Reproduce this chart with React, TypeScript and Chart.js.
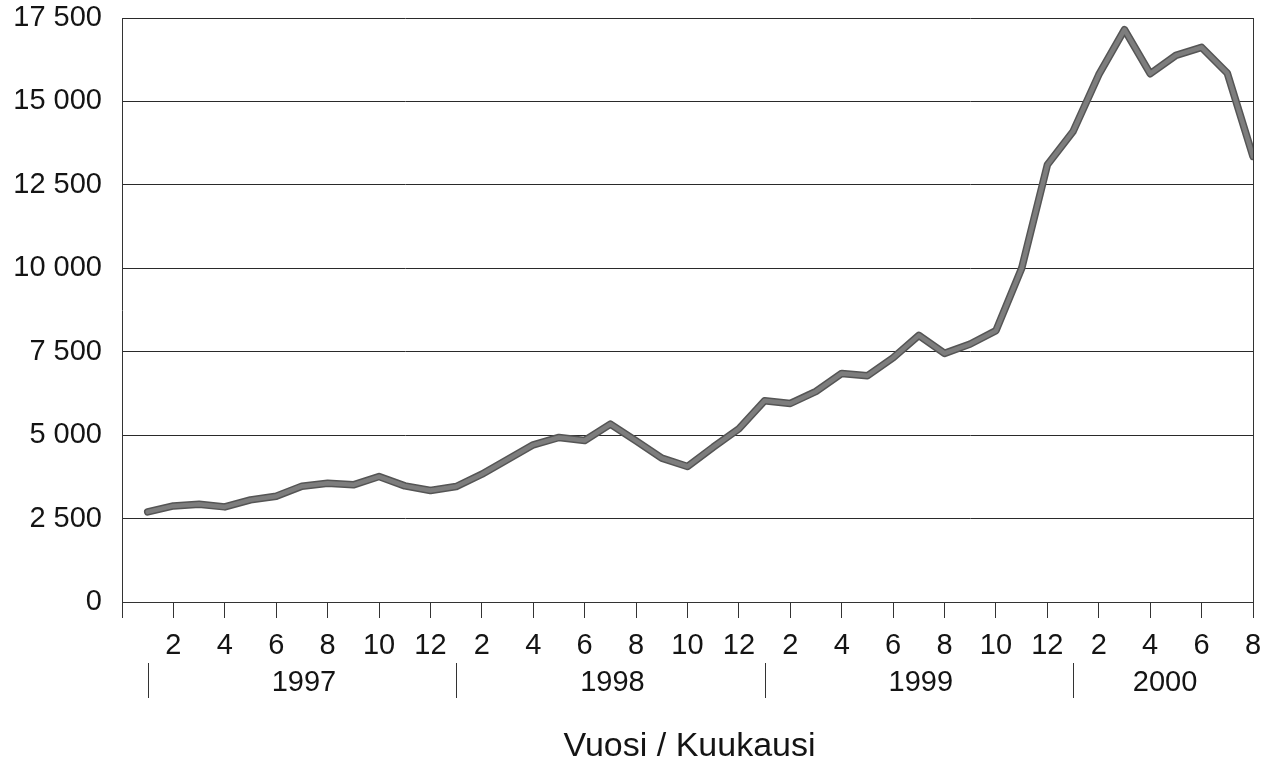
import React, { useEffect, useRef } from "react";
import { Chart, registerables } from "chart.js";

Chart.register(...registerables);

// Month number of each data point (1997/1 .. 2000/8)
const categories = [
  "1", "2", "3", "4", "5", "6", "7", "8", "9", "10", "11", "12",
  "1", "2", "3", "4", "5", "6", "7", "8", "9", "10", "11", "12",
  "1", "2", "3", "4", "5", "6", "7", "8", "9", "10", "11", "12",
  "1", "2", "3", "4", "5", "6", "7", "8",
];

const values = [
  2700, 2880, 2930, 2850, 3060, 3170, 3470, 3560, 3510, 3760, 3480, 3340,
  3460, 3830, 4270, 4710, 4930, 4840, 5330, 4830, 4310, 4060, 4640, 5190,
  6030, 5950, 6310, 6850, 6780, 7320, 7990, 7450, 7730, 8130, 10000, 13100,
  14100, 15800, 17150, 15830, 16380, 16620, 15850, 13350,
];

const years = ["1997", "1998", "1999", "2000"];
const yearStartIndex = [0, 12, 24, 36];

const yTicks = [0, 2500, 5000, 7500, 10000, 12500, 15000, 17500];

const axisTitle = "Vuosi / Kuukausi";

const FONT = "'Liberation Sans', Arial, Helvetica, sans-serif";
const TEXT = "#141414";

function fmt(v: number): string {
  const s = String(Math.round(v));
  return s.replace(/\B(?=(\d{3})+(?!\d))/g, " ");
}

export default function App() {
  const ref = useRef<HTMLCanvasElement | null>(null);

  useEffect(() => {
    if (!ref.current) return;
    const points = values.map((v, i) => ({ x: i, y: v }));
    const lastIdx = categories.length - 1;
    const xTickIdx = [-1, ...categories.map((_, i) => i).filter((i) => i % 2 === 1)];

    const decor = {
      id: "decor",
      afterDraw(chart: any) {
        const ctx = chart.ctx;
        const { left, right, top, bottom } = chart.chartArea;
        const xs = chart.scales.x;
        ctx.save();
        // right border
        ctx.strokeStyle = "#333";
        ctx.lineWidth = 1;
        ctx.beginPath();
        ctx.moveTo(right + 0.5, top);
        ctx.lineTo(right + 0.5, bottom);
        ctx.stroke();
        // year separators and labels
        ctx.fillStyle = TEXT;
        ctx.font = `29px ${FONT}`;
        ctx.textAlign = "center";
        ctx.textBaseline = "middle";
        years.forEach((y, k) => {
          const s = yearStartIndex[k];
          const e = k + 1 < yearStartIndex.length ? yearStartIndex[k + 1] : lastIdx;
          const xs0 = Math.round(xs.getPixelForValue(s)) + 0.5;
          ctx.beginPath();
          ctx.moveTo(xs0, bottom + 61);
          ctx.lineTo(xs0, bottom + 96);
          ctx.stroke();
          const mid = xs.getPixelForValue((s + e) / 2);
          ctx.fillText(y, mid + 2, bottom + 81);
        });
        // axis title
        ctx.font = `34px ${FONT}`;
        ctx.fillText(axisTitle, (left + right) / 2 + 2, bottom + 145);
        ctx.restore();
      },
    };

    const chart = new Chart(ref.current, {
      type: "line",
      data: {
        datasets: [
          {
            data: points,
            borderColor: "#555555",
            borderWidth: 7.5,
            pointRadius: 0,
            tension: 0,
            order: 2,
            borderJoinStyle: "round",
            borderCapStyle: "round",
          },
          {
            data: points,
            borderColor: "#7d7d7d",
            borderWidth: 4.5,
            pointRadius: 0,
            tension: 0,
            order: 1,
            borderJoinStyle: "round",
            borderCapStyle: "round",
          },
        ],
      },
      options: {
        animation: false,
        responsive: false,
        maintainAspectRatio: false,
        layout: { padding: { left: 0, top: 18, right: 16, bottom: 0 } },
        plugins: { legend: { display: false }, tooltip: { enabled: false } },
        scales: {
          x: {
            type: "linear",
            min: -1,
            max: lastIdx,
            afterBuildTicks: (scale: any) => {
              scale.ticks = xTickIdx.map((v) => ({ value: v }));
            },
            afterFit: (scale: any) => {
              scale.height = 166;
              scale.paddingLeft = 0;
              scale.paddingRight = 0;
            },
            ticks: {
              autoSkip: false,
              maxRotation: 0,
              padding: 11,
              color: TEXT,
              font: { family: FONT, size: 29 },
              callback: (v: any) => (v >= 0 ? categories[v] : ""),
            },
            grid: {
              drawOnChartArea: false,
              drawTicks: true,
              tickLength: 16,
              color: "#333",
              lineWidth: 1,
            },
            border: { display: true, color: "#333", width: 1 },
          },
          y: {
            type: "linear",
            min: 0,
            max: 17500,
            afterBuildTicks: (scale: any) => {
              scale.ticks = yTicks.map((v) => ({ value: v }));
            },
            afterFit: (scale: any) => {
              scale.width = 122;
              scale.paddingTop = 0;
              scale.paddingBottom = 0;
            },
            ticks: {
              padding: 20,
              color: TEXT,
              font: { family: FONT, size: 29 },
              callback: (v: any) => fmt(Number(v)),
            },
            grid: { color: "#2a2a2a", lineWidth: 1, drawTicks: false },
            border: { display: true, color: "#333", width: 1 },
          },
        },
      },
      plugins: [decor],
    } as any);
    return () => chart.destroy();
  }, []);

  return (
    <div
      style={{
        position: "fixed",
        left: 0,
        top: 0,
        width: 1269,
        height: 768,
        background: "#fff",
      }}
    >
      <canvas ref={ref} width={1269} height={768} style={{ width: 1269, height: 768, display: "block" }} />
    </div>
  );
}
